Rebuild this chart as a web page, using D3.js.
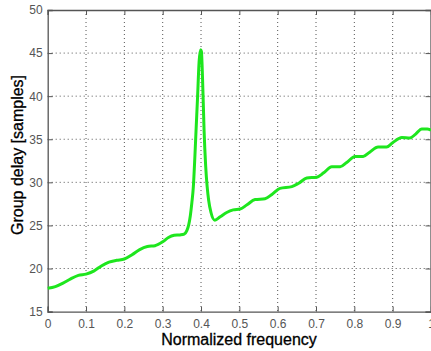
<!DOCTYPE html>
<html><head><meta charset="utf-8">
<script src="https://cdn.jsdelivr.net/npm/d3@7"></script>
<style>body{margin:0;background:#fff}svg{display:block}</style>
</head><body>
<svg id="c" width="431" height="351"></svg>
<script>
const freq = [0,0.02,0.04,0.06,0.08,0.1,0.12,0.14,0.16,0.18,0.2,0.22,0.24,0.26,0.28,0.3,0.315,0.33,0.345,0.356,0.363,0.368,0.372,0.376,0.38,0.384,0.387,0.391,0.395,0.399,0.401,0.404,0.408,0.412,0.416,0.42,0.426,0.436,0.45,0.467,0.484,0.502,0.52,0.541,0.567,0.585,0.606,0.637,0.655,0.676,0.702,0.72,0.741,0.763,0.78,0.802,0.823,0.84,0.862,0.884,0.9,0.924,0.945,0.96,0.976,0.99,1.0];
const delay = [17.7,17.9,18.3,18.8,19.2,19.35,19.7,20.3,20.75,20.95,21.1,21.6,22.2,22.55,22.65,23.1,23.6,23.85,23.9,24.0,24.4,25.1,26.1,27.6,29.5,33,36,39.9,44.0,45.4,45.2,42,36,32,29.5,27.9,26.5,25.6,26.0,26.5,26.8,26.9,27.4,28.0,28.1,28.6,29.3,29.5,29.9,30.5,30.6,31.1,31.8,31.8,32.3,33.0,33.0,33.5,34.1,34.1,34.6,35.2,35.15,35.6,36.2,36.2,36.05];
const xTicks = [0,0.1,0.2,0.3,0.4,0.5,0.6,0.7,0.8,0.9,1];
const yTicks = [15,20,25,30,35,40,45,50];

const svg = d3.select('#c');
const L=47.7, R=431, T=10, B=311.6;
const x = d3.scaleLinear().domain([0,1]).range([L,R]);
const y = d3.scaleLinear().domain([15,50]).range([B,T]);

// grid
const g = svg.append('g');
g.selectAll('.vg').data(xTicks.slice(1,-1)).enter().append('line')
 .attr('x1',d=>x(d)).attr('x2',d=>x(d)).attr('y1',T).attr('y2',B)
 .attr('stroke','#555').attr('stroke-width',1).attr('stroke-dasharray','1,3');
g.selectAll('.hg').data(yTicks.slice(1,-1)).enter().append('line')
 .attr('y1',d=>y(d)).attr('y2',d=>y(d)).attr('x1',L).attr('x2',R)
 .attr('stroke','#555').attr('stroke-width',1).attr('stroke-dasharray','1,3');

// axes
const fmt = d=>d3.format('')(d);
const xa = svg.append('g').attr('transform',`translate(0,${B})`)
 .call(d3.axisBottom(x).tickValues(xTicks).tickSize(-5).tickPadding(8).tickFormat(fmt));
const xa2 = svg.append('g').attr('transform',`translate(0,${T})`)
 .call(d3.axisTop(x).tickValues(xTicks).tickSize(-5).tickFormat(''));
const ya = svg.append('g').attr('transform',`translate(${L},0)`)
 .call(d3.axisLeft(y).tickValues(yTicks).tickSize(-5).tickPadding(5).tickFormat(fmt));
const ya2 = svg.append('g').attr('transform',`translate(${R-0.5},0)`)
 .call(d3.axisRight(y).tickValues(yTicks).tickSize(-5).tickFormat(''));
[xa,xa2,ya,ya2].forEach(a=>{
  a.select('.domain').attr('stroke','#555').attr('stroke-width',1.3);
  a.selectAll('.tick line').attr('stroke','#555');
  a.selectAll('text').attr('fill','#555').attr('font-family','Liberation Sans, Arial, sans-serif').attr('font-size',12);
});

// curve
const pts = freq.map((f,i)=>[f,delay[i]]);
svg.append('path').datum(pts)
 .attr('fill','none').attr('stroke','#1ee61e').attr('stroke-width',3)
 .attr('stroke-linejoin','round')
 .attr('d', d3.line().x(d=>x(d[0])).y(d=>y(d[1])).curve(d3.curveMonotoneX));

// labels
svg.append('text').attr('x',239).attr('y',345).attr('text-anchor','middle')
 .attr('font-family','Liberation Sans, Arial, sans-serif').attr('font-size',16).attr('fill','#000')
 .attr('stroke','#000').attr('stroke-width',0.3)
 .text('Normalized frequency');
svg.append('text').attr('transform','translate(23,155) rotate(-90)').attr('text-anchor','middle')
 .attr('font-family','Liberation Sans, Arial, sans-serif').attr('font-size',16).attr('fill','#000')
 .attr('stroke','#000').attr('stroke-width',0.3)
 .text('Group delay [samples]');
</script>
</body></html>
